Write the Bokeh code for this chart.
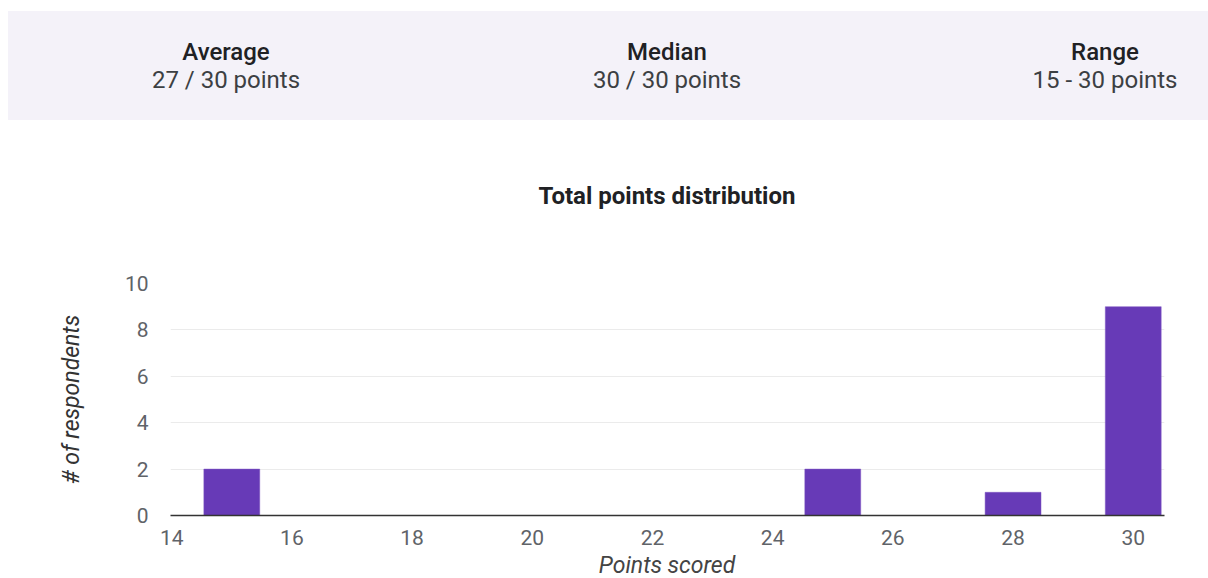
from bokeh.plotting import figure
from bokeh.models import Div, FixedTicker
from bokeh.layouts import column
from bokeh.embed import file_html
from bokeh.resources import INLINE

# ---- data ----
summary_titles = ["Average", "Median", "Range"]
summary_values = ["27 / 30 points", "30 / 30 points", "15 - 30 points"]
scores = [15, 25, 28, 30]
counts = [2, 2, 1, 9]
x_ticks = [14, 16, 18, 20, 22, 24, 26, 28, 30]
y_ticks = [0, 2, 4, 6, 8, 10]
chart_title = "Total points distribution"
x_label = "Points scored"
y_label = "# of respondents"

FRAME_LEFT, FRAME_RIGHT_GAP = 170, 44
frame_center = FRAME_LEFT + (1208 - FRAME_LEFT - FRAME_RIGHT_GAP) / 2

# ---- header band ----
centers = [218, 659, 1097]
blocks = ""
for c, t, v in zip(centers, summary_titles, summary_values):
    blocks += (
        f'<div style="position:absolute;left:{c}px;top:27px;transform:translateX(-50%);'
        f'text-align:center;line-height:28px;white-space:nowrap;">'
        f'<div style="font-weight:500;color:#202124;">{t}</div>'
        f'<div style="color:#3c4043;">{v}</div></div>'
    )
html = (
    '<div style="position:absolute;left:8px;top:11px;width:1200px;height:109px;'
    'background:#f4f2f9;font-family:Roboto, sans-serif;font-size:24px;">'
    + blocks + '</div>'
)
header = Div(text=html, width=1208, height=120, margin=(0, 0, 0, 0),
             styles={"position": "relative"})

# ---- chart title strip ----
title_html = (
    f'<div style="position:absolute;left:{frame_center}px;top:62px;transform:translateX(-50%);'
    f'font-family:Roboto, sans-serif;font-size:24px;font-weight:bold;color:#202124;'
    f'line-height:28px;white-space:nowrap;">{chart_title}</div>'
)
title_div = Div(text=title_html, width=1208, height=100, margin=(0, 0, 0, 0),
                styles={"position": "relative"})

# ---- chart ----
x_lo, x_hi = 13.98, 30.52
p = figure(width=1208, height=330, x_range=(x_lo, x_hi), y_range=(0, 10),
           output_backend="svg", toolbar_location=None,
           min_border_left=FRAME_LEFT, min_border_right=FRAME_RIGHT_GAP,
           min_border_top=63, min_border_bottom=35)
p.margin = (0, 0, 0, 0)
p.outline_line_color = None
p.background_fill_color = "white"
p.border_fill_color = "white"

p.vbar(x=scores, top=counts, width=0.93, fill_color="#673ab7", line_color="#7e57c2", line_width=0.5)

p.xgrid.grid_line_color = None
p.ygrid.grid_line_color = "#ebebeb"
p.ygrid.ticker = FixedTicker(ticks=y_ticks)

xa = p.xaxis[0]
xa.ticker = FixedTicker(ticks=x_ticks)
xa.axis_line_color = "#333333"
xa.axis_line_width = 1.5
xa.major_tick_line_color = None
xa.minor_tick_line_color = None
xa.major_label_text_font = "Roboto"
xa.major_label_text_font_size = "21px"
xa.major_label_text_color = "#5f6368"
xa.major_label_standoff = 8

ya = p.yaxis[0]
ya.ticker = FixedTicker(ticks=y_ticks)
ya.axis_line_color = None
ya.major_tick_line_color = None
ya.minor_tick_line_color = None
ya.major_label_text_font = "Roboto"
ya.major_label_text_font_size = "21px"
ya.major_label_text_color = "#5f6368"
ya.major_label_standoff = 16
ya.axis_label = y_label
ya.axis_label_text_font = "Roboto"
ya.axis_label_text_font_size = "23px"
ya.axis_label_text_font_style = "italic"
ya.axis_label_text_color = "#333333"
ya.axis_label_standoff = 37

# ---- x-axis title strip under the figure, centred on the plot frame ----
xlab_html = (
    f'<div style="position:absolute;left:{frame_center}px;top:5px;transform:translateX(-50%);'
    f'font-family:Roboto, sans-serif;font-size:23px;font-style:italic;color:#444444;'
    f'line-height:22px;white-space:nowrap;">{x_label}</div>'
)
xlab = Div(text=xlab_html, width=1208, height=28, margin=(0, 0, 0, 0),
           styles={"position": "relative"})

layout = column(header, title_div, p, xlab, spacing=0)
open("out.html", "w").write(file_html(layout, INLINE))
